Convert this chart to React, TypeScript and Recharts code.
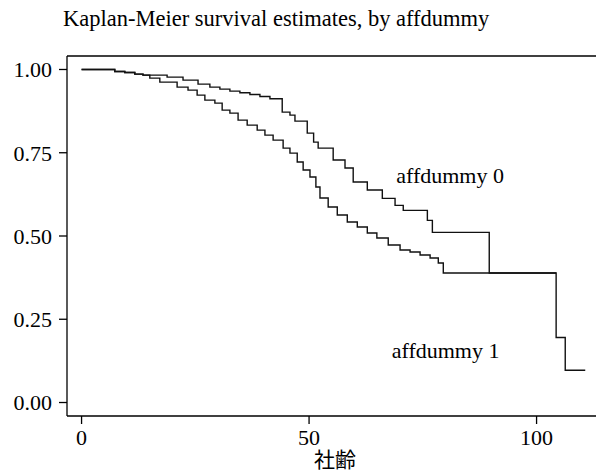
import React from 'react';
import { LineChart, Line, XAxis, YAxis, ReferenceDot, Label } from 'recharts';

// Kaplan-Meier step estimates
const times0 = [0, 7.3, 9.5, 11.7, 13.5, 18.8, 22.3, 25.6, 28.2, 30.4, 32.6, 34.8, 37.0, 39.2, 41.4, 44.1, 45.8, 46.9, 49.6, 51.0, 52.0, 55.3, 57.9, 59.7, 62.8, 66.1, 68.9, 70.7, 76.0, 77.1, 89.6, 104.3];
const surv0 = [1.0, 0.994, 0.991, 0.986, 0.983, 0.977, 0.968, 0.956, 0.947, 0.941, 0.935, 0.930, 0.925, 0.919, 0.912, 0.872, 0.863, 0.845, 0.809, 0.782, 0.764, 0.728, 0.704, 0.662, 0.638, 0.613, 0.592, 0.577, 0.547, 0.511, 0.389, 0.389];

const times1 = [0, 7.3, 9.5, 11.7, 13.5, 15.0, 17.2, 21.0, 23.4, 25.4, 27.1, 29.3, 30.9, 32.6, 34.4, 36.4, 38.6, 40.3, 42.1, 44.3, 45.8, 47.4, 48.7, 50.2, 51.5, 52.4, 54.2, 56.2, 58.4, 60.6, 62.8, 64.9, 67.4, 70.0, 72.2, 74.4, 76.6, 78.4, 79.5, 104.3, 106.3, 110.7];
const surv1 = [1.0, 0.994, 0.991, 0.986, 0.983, 0.974, 0.962, 0.947, 0.938, 0.923, 0.908, 0.899, 0.878, 0.869, 0.848, 0.833, 0.818, 0.803, 0.788, 0.764, 0.749, 0.722, 0.698, 0.677, 0.647, 0.614, 0.587, 0.563, 0.542, 0.527, 0.509, 0.494, 0.473, 0.458, 0.452, 0.443, 0.434, 0.419, 0.389, 0.195, 0.097, 0.097];

const xTicks = [0, 50, 100];
const yTicks = [0, 0.25, 0.5, 0.75, 1];

const title = 'Kaplan-Meier survival estimates, by affdummy';
const xTitle = '社齢';
const seriesLabels = ['affdummy 0', 'affdummy 1'];
const labelPos = [
  { x: 81, y: 0.682 },
  { x: 80, y: 0.158 },
];

const data0 = times0.map((t, i) => ({ t, s: surv0[i] }));
const data1 = times1.map((t, i) => ({ t, s: surv1[i] }));

const SERIF = '"Liberation Serif", "DejaVu Serif", serif';
const tickStyle = { fontFamily: SERIF, fontSize: 22, fill: '#000' };

export default function App() {
  return (
    <div style={{ position: 'absolute', left: 0, top: 0, width: 596, height: 472, overflow: 'hidden', background: '#fff' }}>
      <div
        style={{
          position: 'absolute',
          left: 63,
          top: 6,
          fontFamily: SERIF,
          fontSize: 22.5,
          color: '#000',
          whiteSpace: 'nowrap',
          lineHeight: 'normal',
        }}
      >
        {title}
      </div>
      <LineChart width={603} height={472} margin={{ top: 48, right: 0, bottom: 0, left: 0 }}>
        <XAxis
          type="number"
          dataKey="t"
          domain={[-3.2, 114.6]}
          ticks={xTicks}
          allowDataOverflow
          height={56}
          tickSize={8}
          tickMargin={5}
          stroke="#000"
          strokeWidth={1.3}
          tick={tickStyle}
          interval={0}
        >
          <Label
            value={xTitle}
            position="insideBottom"
            offset={5}
            style={{ fontFamily: '"Noto Sans CJK JP", sans-serif', fontSize: 21, fill: '#000' }}
          />
        </XAxis>
        <XAxis
          xAxisId="top"
          orientation="top"
          type="number"
          dataKey="t"
          domain={[-3.2, 114.6]}
          ticks={xTicks}
          allowDataOverflow
          height={8}
          tickSize={7}
          tick={false}
          stroke="#000"
          strokeWidth={1.3}
        />
        <YAxis
          type="number"
          domain={[-0.0405, 1.0405]}
          ticks={yTicks}
          allowDataOverflow
          width={67}
          tickSize={8}
          tickMargin={7}
          stroke="#000"
          strokeWidth={1.3}
          tick={tickStyle}
          tickFormatter={(v: number) => v.toFixed(2)}
          interval={0}
        />
        <Line
          data={data0}
          dataKey="s"
          type="stepAfter"
          stroke="#111"
          strokeWidth={1.4}
          dot={false}
          isAnimationActive={false}
        />
        <Line
          data={data1}
          dataKey="s"
          type="stepAfter"
          stroke="#111"
          strokeWidth={1.4}
          dot={false}
          isAnimationActive={false}
        />
        {seriesLabels.map((lab, i) => (
          <ReferenceDot
            key={lab}
            x={labelPos[i].x}
            y={labelPos[i].y}
            r={0}
            fill="none"
            stroke="none"
          >
            <Label value={lab} position="center" style={{ fontFamily: SERIF, fontSize: 22, fill: '#000' }} />
          </ReferenceDot>
        ))}
      </LineChart>
    </div>
  );
}
